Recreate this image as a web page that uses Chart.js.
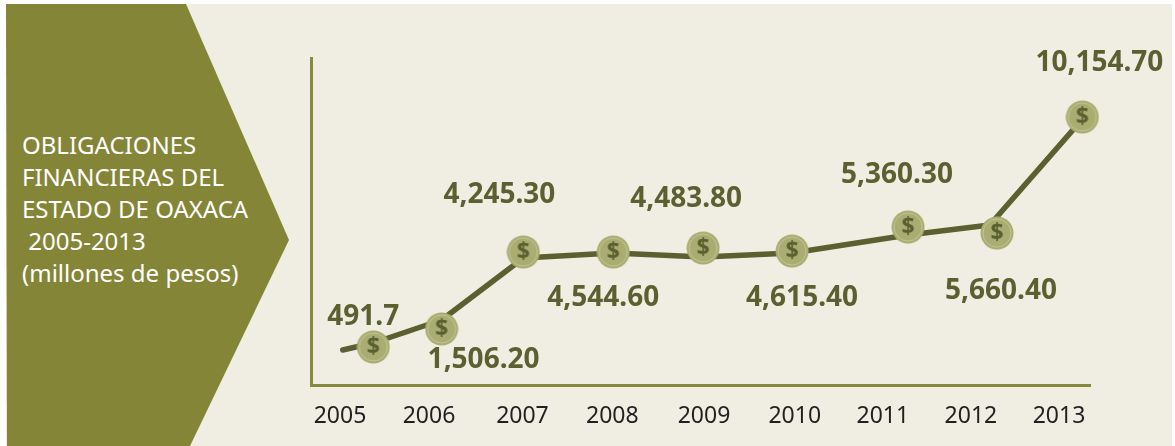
<!DOCTYPE html>
<html>
<head>
<meta charset="utf-8">
<title>Obligaciones financieras</title>
<script src="https://cdn.jsdelivr.net/npm/chart.js@4"></script>
<style>
  html, body { margin: 0; padding: 0; background: #fff; width: 1175px; height: 446px; overflow: hidden; }
  .bg { position: absolute; left: 6px; top: 4px; width: 1166px; height: 442px; background: #f0eee3; }
  .panel {
    position: absolute; left: 6px; top: 4px; width: 284px; height: 442px; background: #848537;
    clip-path: polygon(0 0, 180px 0, 283px 236px, 184px 442px, 1px 442px);
  }
  .panel-text {
    position: absolute; left: 22px; top: 129px; color: #fff; white-space: pre;
    font: 24px/32px "Noto Sans", sans-serif;
  }
  canvas { position: absolute; left: 0; top: 0; }
</style>
</head>
<body>
<div class="bg"></div>
<div class="panel"></div>
<div class="panel-text">OBLIGACIONES
FINANCIERAS DEL
ESTADO DE OAXACA
 2005-2013
(millones de pesos)</div>
<canvas id="myChart" width="1175" height="446"></canvas>
<script>
// Data
const categories = [2005, 2006, 2007, 2008, 2009, 2010, 2011, 2012, 2013];
// where each year label sits along the axis
const tickPlaces = [2005, 2005.99, 2007.03, 2008.03, 2009.05, 2010.06, 2011.04, 2012.02, 2013];
// printed amounts, one per coin
const printedValues = ["491.7", "1,506.20", "4,245.30", "4,544.60", "4,483.80", "4,615.40", "5,360.30", "5,660.40", "10,154.70"];
// the picture is not to scale, so heights are read from it
const coinYears = [2005.37, 2006.13, 2007.04, 2008.04, 2009.04, 2010.03, 2011.32, 2012.31, 2013.26];
const coinHeights = [491.7, 1248, 4482, 4482, 4650, 4524, 5532, 5280, 10154.7];
// the line does not pass through the coin centres, and starts before the first coin
const lineYears = [2005.03, 2005.37, 2006.13, 2007.04, 2008.04, 2009.04, 2010.03, 2011.32, 2012.23, 2013.26];
const lineHeights = [366, 660, 1626, 4230, 4440, 4272, 4440, 5196, 5616, 10068];

// Colors
const axisColor = "#868a3b";
const lineColor = "#5a6030";

// Label offset from its coin (dx, dy)
const labelOffsets = [[-10, -30], [42, 31], [-24, -57], [-10, 46], [-17, -49], [10, 47], [-11, -52], [4, 58], [17, -54]];

// Coin image used as point style
const makeCoin = () => {
  const c = document.createElement("canvas");
  c.width = 34;
  c.height = 34;
  const ctx = c.getContext("2d");
  ctx.fillStyle = "#a9ad71";
  ctx.beginPath();
  ctx.arc(17, 17, 16.5, 0, Math.PI * 2);
  ctx.fill();
  ctx.strokeStyle = "#c9cb9f";
  ctx.lineWidth = 0.8;
  ctx.beginPath();
  ctx.arc(17, 17, 14, 0, Math.PI * 2);
  ctx.stroke();
  ctx.fillStyle = lineColor;
  ctx.font = 'bold 23px "Noto Sans"';
  ctx.textAlign = "center";
  ctx.textBaseline = "middle";
  ctx.fillText("$", 17, 17);
  return c;
};
const coin = makeCoin();

// Draws the amounts next to the coins
const amountLabels = {
  id: "amountLabels",
  afterDatasetsDraw(chart) {
    const ctx = chart.ctx;
    const points = chart.getDatasetMeta(0).data;
    ctx.save();
    ctx.fillStyle = lineColor;
    ctx.font = 'bold 28px "Noto Sans"';
    ctx.textAlign = "center";
    ctx.textBaseline = "middle";
    points.forEach((p, i) => {
      ctx.fillText(printedValues[i], p.x + labelOffsets[i][0], p.y + labelOffsets[i][1]);
    });
    ctx.restore();
  },
};

new Chart(document.getElementById("myChart"), {
  type: "line",
  data: {
    datasets: [
      {
        data: coinYears.map((x, i) => ({ x: x, y: coinHeights[i] })),
        showLine: false,
        clip: false,
        pointStyle: coin,
        pointRadius: 17,
      },
      {
        data: lineYears.map((x, i) => ({ x: x, y: lineHeights[i] })),
        borderColor: lineColor,
        borderWidth: 5.5,
        borderCapStyle: "round",
        borderJoinStyle: "round",
        tension: 0,
        pointRadius: 0,
      },
    ],
  },
  options: {
    responsive: false,
    animation: false,
    layout: { padding: { top: 58, right: 85 } },
    plugins: { legend: { display: false }, tooltip: { enabled: false } },
    scales: {
      x: {
        type: "linear",
        min: 2004.677,
        max: 2013.345,
        afterFit: (s) => { s.height = 61; },
        afterBuildTicks: (s) => { s.ticks = tickPlaces.map((v) => ({ value: v })); },
        grid: { display: false },
        border: { color: axisColor, width: 3 },
        ticks: {
          autoSkip: false,
          maxRotation: 0,
          padding: 10,
          color: "#231f20",
          font: { family: '"Noto Sans"', size: 23 },
          callback: (v) => categories[tickPlaces.indexOf(v)],
        },
      },
      y: {
        min: -1105,
        max: 12634,
        afterFit: (s) => { s.width = 311; },
        grid: { display: false },
        border: { color: axisColor, width: 3 },
        ticks: { display: false },
      },
    },
  },
  plugins: [amountLabels],
});
</script>
</body>
</html>
